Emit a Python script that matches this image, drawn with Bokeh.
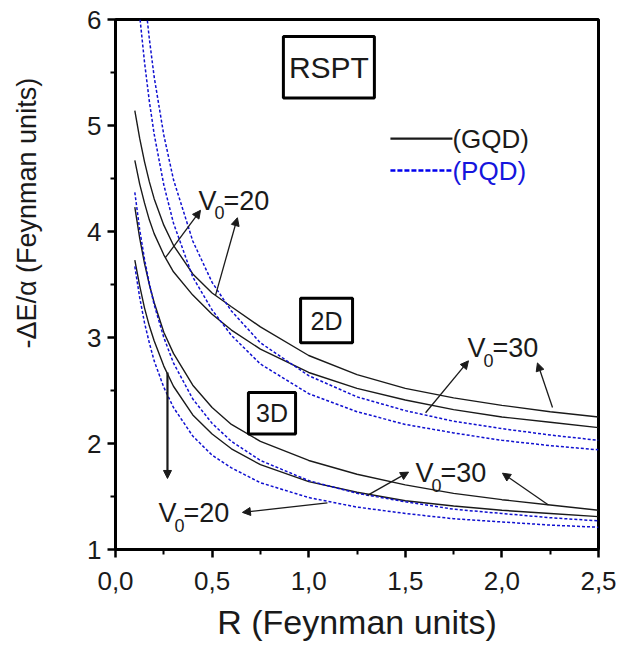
from bokeh.plotting import figure
from bokeh.models import (Range1d, FixedTicker, CustomJSTickFormatter, Arrow, NormalHead,
                          BoxAnnotation, Label)
from bokeh.embed import file_html
from bokeh.resources import INLINE

FONT = "Liberation Sans"
BLUE = "#1010d0"
INK = "#1a1a1a"

# Dot radius R (Feynman units)
r = [0.1, 0.125, 0.15, 0.175, 0.2, 0.25, 0.3, 0.4, 0.5, 0.6, 0.75,
     1.0, 1.25, 1.5, 1.75, 2.0, 2.25, 2.5]

# -dE/alpha, 2D dots
gqd_2d_a = [5.14, 4.88, 4.66, 4.47, 4.31, 4.06, 3.87, 3.60, 3.42, 3.29, 3.10,
            2.83, 2.65, 2.52, 2.43, 2.36, 2.30, 2.25]
gqd_2d_b = [4.67, 4.45, 4.27, 4.11, 3.98, 3.78, 3.62, 3.40, 3.22, 3.07, 2.89,
            2.67, 2.52, 2.41, 2.32, 2.25, 2.20, 2.15]
pqd_2d_a = [7.40, 6.76, 6.24, 5.82, 5.46, 4.91, 4.49, 3.91, 3.52, 3.25, 2.95,
            2.64, 2.44, 2.31, 2.21, 2.14, 2.08, 2.03]
pqd_2d_b = [6.61, 6.04, 5.60, 5.23, 4.92, 4.44, 4.08, 3.57, 3.26, 3.02, 2.75,
            2.47, 2.30, 2.18, 2.10, 2.03, 1.98, 1.94]

# -dE/alpha, 3D dots
gqd_3d_a = [4.23, 3.94, 3.70, 3.50, 3.33, 3.05, 2.85, 2.55, 2.34, 2.18, 2.02,
            1.84, 1.71, 1.61, 1.53, 1.47, 1.42, 1.37]
gqd_3d_b = [3.73, 3.49, 3.28, 3.11, 2.97, 2.73, 2.54, 2.27, 2.09, 1.95, 1.80,
            1.64, 1.54, 1.46, 1.41, 1.37, 1.34, 1.31]
pqd_3d_a = [4.37, 4.02, 3.74, 3.51, 3.31, 3.00, 2.76, 2.42, 2.19, 2.02, 1.84,
            1.65, 1.53, 1.45, 1.38, 1.34, 1.30, 1.27]
pqd_3d_b = [3.67, 3.38, 3.14, 2.95, 2.78, 2.53, 2.34, 2.07, 1.89, 1.77, 1.63,
            1.49, 1.40, 1.34, 1.29, 1.26, 1.23, 1.21]

x_ticks = [0.0, 0.5, 1.0, 1.5, 2.0, 2.5]
x_minor = [0.25, 0.75, 1.25, 1.75, 2.25]
y_ticks = [1, 2, 3, 4, 5, 6]
y_minor = [1.5, 2.5, 3.5, 4.5, 5.5]

p = figure(frame_width=483, frame_height=530,
           min_border_left=115, min_border_right=20,
           min_border_top=19, min_border_bottom=100,
           x_range=Range1d(0, 2.5), y_range=Range1d(1, 6),
           output_backend="svg", toolbar_location=None,
           background_fill_color="white", border_fill_color="white")
p.grid.visible = False
p.outline_line_color = "black"
p.outline_line_width = 3
p.outline_line_alpha = 1

for ax in (p.xaxis[0], p.yaxis[0]):
    ax.axis_line_width = 3
    ax.major_tick_line_width = 2.5
    ax.minor_tick_line_width = 2
    ax.major_tick_in = 0
    ax.major_tick_out = 8
    ax.minor_tick_in = 0
    ax.minor_tick_out = 5
    ax.major_label_text_font = FONT
    ax.major_label_text_font_size = "26px"
    ax.major_label_text_color = INK
    ax.axis_label_text_font = FONT
    ax.axis_label_text_font_style = "normal"
    ax.axis_label_text_color = INK

p.xaxis.ticker = FixedTicker(ticks=x_ticks, minor_ticks=x_minor)
p.yaxis.ticker = FixedTicker(ticks=y_ticks, minor_ticks=y_minor)
p.xaxis.formatter = CustomJSTickFormatter(code="return tick.toFixed(1).replace('.', ',');")
p.yaxis.formatter = CustomJSTickFormatter(code="return tick.toFixed(0);")
p.xaxis.major_label_standoff = 14
p.yaxis.major_label_standoff = 6

# axis titles; non-breaking spaces lift the vertical one above the frame centre
p.xaxis.axis_label = "R (Feynman units)"
p.xaxis.axis_label_text_font_size = "34px"
p.xaxis.axis_label_standoff = 10
p.yaxis.axis_label = "\u00a0" * 19 + "-\u0394E/\u03b1 (Feynman units)"
p.yaxis.axis_label_text_font_size = "27px"
p.yaxis.axis_label_standoff = 42

# curves
for ys in (gqd_2d_a, gqd_2d_b, gqd_3d_a, gqd_3d_b):
    p.line(r, ys, line_color=INK, line_width=1.4)
for ys in (pqd_2d_a, pqd_2d_b, pqd_3d_a, pqd_3d_b):
    p.line(r, ys, line_color=BLUE, line_width=1.5, line_dash="3 2")

# key: sample stroke followed by its caption
keys = [(1.423, 1.744, 4.877, INK, 2.2, "solid", "(GQD)", INK),
        (1.423, 1.744, 4.575, "#0000ee", 2.4, "5 2", "(PQD)", "#1515dd")]
for kx0, kx1, ky, lc, lw, dash, txt, tc in keys:
    p.add_layout(Arrow(x_start=kx0, y_start=ky, x_end=kx1, y_end=ky, end=None,
                       line_color=lc, line_width=lw, line_dash=dash))
    p.add_layout(Label(x=kx1, y=ky, text=txt, text_align="left",
                       text_baseline="middle", text_font=FONT,
                       text_font_size="26px", text_color=tc))

# boxed captions
boxes = [("RSPT", 0.869, 1.340, 5.26, 5.84, "30px"),
         ("2D", 0.958, 1.227, 2.95, 3.37, "25px"),
         ("3D", 0.688, 0.932, 2.09, 2.48, "25px")]
for txt, x0, x1, y0, y1, fs in boxes:
    p.add_layout(BoxAnnotation(left=x0, right=x1, bottom=y0, top=y1,
                               fill_color="white", fill_alpha=1,
                               line_color="black", line_alpha=1, line_width=3))
    p.add_layout(Label(x=(x0 + x1) / 2, y=(y0 + y1) / 2, text=txt,
                       text_align="center", text_baseline="middle",
                       text_font=FONT, text_font_size=fs, text_color=INK))

# V0 labels: (x, baseline y, value)
v_labels = [(0.430, 4.29, "20"), (1.822, 2.90, "30"),
            (1.553, 1.72, "30"), (0.223, 1.34, "20")]
for lx, ly, val in v_labels:
    p.add_layout(Label(x=lx, y=ly, text="V", text_font=FONT, text_font_size="27px",
                       text_color=INK, text_baseline="alphabetic"))
    p.add_layout(Label(x=lx, y=ly, x_offset=16, y_offset=-12, text="0", text_font=FONT,
                       text_font_size="18px", text_color=INK,
                       text_baseline="alphabetic"))
    p.add_layout(Label(x=lx, y=ly, x_offset=25, text="=" + val, text_font=FONT,
                       text_font_size="27px", text_color=INK,
                       text_baseline="alphabetic"))

# pointer arrows: (tail x, tail y, head x, head y, width)
arrows = [(0.259, 3.755, 0.440, 4.20, 1.3),
          (0.518, 3.40, 0.631, 4.13, 1.3),
          (1.605, 2.29, 1.827, 2.78, 1.3),
          (2.262, 2.34, 2.184, 2.76, 1.3),
          (1.304, 1.51, 1.517, 1.73, 1.3),
          (2.241, 1.42, 2.003, 1.72, 1.3),
          (0.269, 2.67, 0.269, 1.67, 2.2),
          (1.097, 1.44, 0.657, 1.35, 1.3)]
for x0, y0, x1, y1, w in arrows:
    p.add_layout(Arrow(x_start=x0, y_start=y0, x_end=x1, y_end=y1,
                       line_color=INK, line_width=w,
                       end=NormalHead(size=8, fill_color=INK,
                                      line_color=INK, line_width=1)))

open("out.html", "w").write(file_html(p, INLINE))
